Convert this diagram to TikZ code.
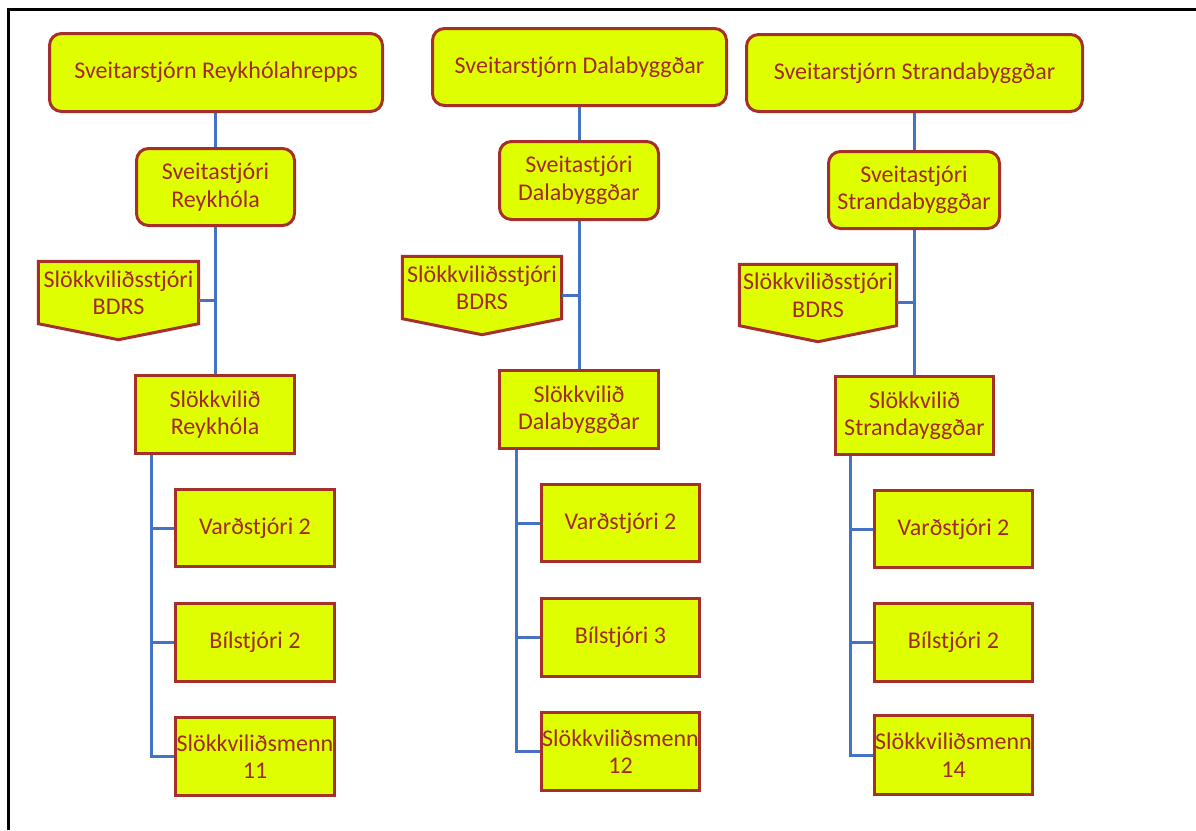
\documentclass[tikz,border=0pt]{standalone}
\usepackage{fontspec}
\setmainfont{Carlito}
\usetikzlibrary{calc,backgrounds}
\definecolor{boxfill}{HTML}{DFFF00}
\definecolor{boxline}{HTML}{A5302A}
\definecolor{boxtext}{HTML}{A02A28}
\definecolor{connblue}{HTML}{4472C4}
\begin{document}
\begin{tikzpicture}[x=1pt,y=-1pt,
  lbl/.style={text=boxtext, font=\fontsize{24}{27.5}\selectfont, align=center, inner sep=0pt},
  base/.style={lbl, draw=boxline, line width=3pt, fill=boxfill},
  rbox/.style={base, rounded corners=12pt},
  sbox/.style={base},
  sz/.style 2 args={minimum width=#1pt, minimum height=#2pt},
  pent/.style={draw=boxline, line width=3pt, fill=boxfill, line join=miter},
  conn/.style={draw=connblue, line width=3pt},
  frame/.style={draw=black, line width=3pt}
]
\useasboundingbox (0,0) rectangle (1196,830);
\draw[frame] (8,830) -- (8,9) -- (1196,9);

% ---------- Column 1 ----------
\node[rbox, sz={333}{78}] (t1) at (216,72.5) {Sveitarstjórn Reykhólahrepps};
\node[rbox, sz={158}{77}] (s1) at (215.5,187) {Sveitastjóri\\Reykhóla};
\node[lbl, sz={160}{62}] (b1) at (118.5,292.5) {Slökkviliðsstjóri\\BDRS};
\node[sbox, sz={159}{78}] (f1) at (215,414.5) {Slökkvilið\\Reykhóla};
\node[sbox, sz={159}{77}] (ca1) at (255,528) {Varðstjóri 2};
\node[sbox, sz={159}{78}] (cb1) at (255,642.5) {Bílstjóri 2};
\node[sbox, sz={159}{78}] (cc1) at (255,756.5) {Slökkviliðsmenn\\11};

% ---------- Column 2 ----------
\node[rbox, sz={294}{77}] (t2) at (579.5,67) {Sveitarstjórn Dalabyggðar};
\node[rbox, sz={159}{78}] (s2) at (579,180.5) {Sveitastjóri\\Dalabyggðar};
\node[lbl, sz={159}{62}] (b2) at (482,287.5) {Slökkviliðsstjóri\\BDRS};
\node[sbox, sz={159}{78}] (f2) at (579,409.5) {Slökkvilið\\Dalabyggðar};
\node[sbox, sz={158}{77}] (ca2) at (620.5,523) {Varðstjóri 2};
\node[sbox, sz={158}{78}] (cb2) at (620.5,637.5) {Bílstjóri 3};
\node[sbox, sz={158}{78}] (cc2) at (620.5,751.5) {Slökkviliðsmenn\\12};

% ---------- Column 3 ----------
\node[rbox, sz={336}{77}] (t3) at (914.5,73) {Sveitarstjórn Strandabyggðar};
\node[rbox, sz={171}{77}] (s3) at (914,190) {Sveitastjóri\\Strandabyggðar};
\node[lbl, sz={157}{61}] (b3) at (818,295) {Slökkviliðsstjóri\\BDRS};
\node[sbox, sz={158}{78}] (f3) at (914.5,415.5) {Slökkvilið\\Strandayggðar};
\node[sbox, sz={158}{77}] (ca3) at (953.5,529) {Varðstjóri 2};
\node[sbox, sz={158}{78}] (cb3) at (953.5,642.5) {Bílstjóri 2};
\node[sbox, sz={158}{79}] (cc3) at (953.5,755) {Slökkviliðsmenn\\14};

\begin{pgfonlayer}{background}
  \foreach \b in {b1,b2,b3}{
    \draw[pent] (\b.north west) -- (\b.north east) -- (\b.south east)
      -- ($(\b.south)+(0,16)$) -- (\b.south west) -- cycle;
  }
  \foreach \i in {1,2,3}{
    \draw[conn] (s\i.north |- t\i.south) -- (s\i.north);
    \draw[conn] (s\i.south) -- (s\i.south |- f\i.north);
    \draw[conn] ($(b\i.east)+(0,7.5)$) -- ($(b\i.east -| s\i.south)+(0,7.5)$);
  }
  \coordinate (v1) at ($(f1.south west)+(17,0)$);
  \coordinate (v2) at ($(f2.south west)+(18,0)$);
  \coordinate (v3) at ($(f3.south west)+(16,0)$);
  \foreach \i in {1,2,3}{
    \draw[conn] (v\i) |- (cc\i.west);
    \draw[conn] (v\i |- ca\i.west) -- (ca\i.west);
    \draw[conn] (v\i |- cb\i.west) -- (cb\i.west);
  }
\end{pgfonlayer}
\end{tikzpicture}
\end{document}
